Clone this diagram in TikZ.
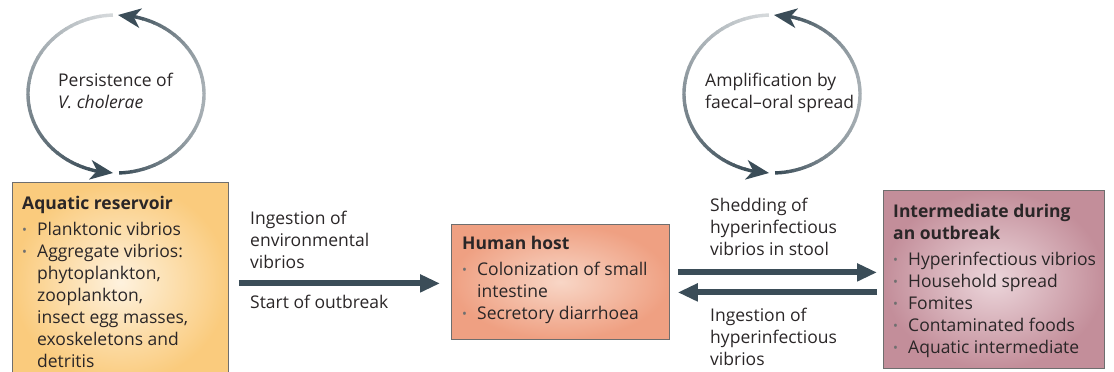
\documentclass[tikz,border=0pt]{standalone}
\usepackage{fontspec}
\setmainfont{Open Sans}
\usetikzlibrary{arrows.meta,calc}
\definecolor{slate}{HTML}{3B4D58}
\definecolor{ink}{HTML}{2A2627}
\definecolor{dotgray}{HTML}{6F6F6F}
\definecolor{edgegray}{HTML}{6E6E6E}
\newcommand\bul{\makebox[15pt][l]{\textcolor{dotgray}{\fontsize{13}{13}\selectfont\raisebox{0.5pt}{•}}}}
\newcommand\ind{\hspace*{15pt}}

\begin{document}
\begin{tikzpicture}[x=1pt,y=1pt,
    box/.style={rectangle, draw=edgegray, line width=0.8pt, anchor=north west, inner sep=0pt},
    txt/.style={inner sep=0pt, align=left, anchor=north west, text=ink,
                font=\fontsize{17.5}{22}\selectfont},
    flow/.style={draw=slate, line width=6pt, -{Triangle[length=20pt,width=17pt]}}]
  \useasboundingbox (0,0) rectangle (1114,372);
  \def\rx{88}
  \def\ry{79}

  \node[box, minimum width=216pt, minimum height=200pt, shading=radial,
        inner color={rgb,255:red,254;green,242;blue,222}, outer color={rgb,255:red,250;green,203;blue,125}]
    (aq) at (12,190) {};
  \node[box, minimum width=218pt, minimum height=115pt, shading=radial,
        inner color={rgb,255:red,248;green,214;blue,198}, outer color={rgb,255:red,239;green,160;blue,130}]
    (hh) at (451,148) {};
  \node[box, minimum width=221pt, minimum height=178pt, shading=radial,
        inner color={rgb,255:red,236;green,214;blue,219}, outer color={rgb,255:red,195;green,142;blue,154}]
    (im) at (883,182) {};

  \node[txt] (aqtext) at (22,176) {\textbf{Aquatic reservoir}\\[4pt]
    \bul Planktonic vibrios\\
    \bul Aggregate vibrios:\\
    \ind phytoplankton,\\
    \ind zooplankton,\\
    \ind insect egg masses,\\
    \ind exoskeletons and\\
    \ind detritis};
  \node[txt] (hhtext) at (462,136) {\textbf{Human host}\\[4pt]
    \bul Colonization of small\\
    \ind intestine\\
    \bul Secretory diarrhoea};
  \node[txt] (imtext) at (893,168) {\textbf{Intermediate during}\\
    \textbf{an outbreak}\\[4pt]
    \bul Hyperinfectious vibrios\\
    \bul Household spread\\
    \bul Fomites\\
    \bul Contaminated foods\\
    \bul Aquatic intermediate};

  \draw[flow, shorten <=10pt, shorten >=11pt] ([yshift=-1.5pt]aq.east |- hh.west) -- ([yshift=-1.5pt]hh.west);
  \draw[flow, shorten <=8pt, shorten >=6pt] ([yshift=9.5pt]hh.east) -- ([yshift=9.5pt]hh.east -| im.west);
  \draw[flow, shorten <=6pt, shorten >=8pt] ([yshift=-10.5pt]hh.east -| im.west) -- ([yshift=-10.5pt]hh.east);

  \node[txt] (ingest) at (250,161) {Ingestion of\\ environmental\\ vibrios};
  \node[txt] (start) at (250,77) {Start of outbreak};
  \node[txt] (shed) at (710,174) {Shedding of\\ hyperinfectious\\ vibrios in stool};
  \node[txt] (reingest) at (710,64) {Ingestion of\\ hyperinfectious\\ vibrios};

  \coordinate (loopA) at (116,278);
  \coordinate (loopB) at (772,278);
  \node[txt] (persist) at (58,299) {Persistence of\\ \textit{V. cholerae}};
  \node[txt] (amplify) at (705,299) {Amplification by\\ faecal--oral spread};

  \foreach \c in {loopA,loopB} {
    \foreach \a in {-88,-84,...,76} {
      \pgfmathtruncatemacro{\p}{100-55*sin((\a+88)/166*180)}
      \draw[color=slate!\p!white, line width=3.4pt]
        ($(\c)+({\rx*cos(\a)},{\ry*sin(\a)})$) arc[start angle=\a, end angle=\a+4.5, x radius=\rx, y radius=\ry];
    }
    \foreach \a in {92,96,...,256} {
      \pgfmathtruncatemacro{\p}{22+(\a-92)/164*78}
      \draw[color=slate!\p!white, line width=3.4pt]
        ($(\c)+({\rx*cos(\a)},{\ry*sin(\a)})$) arc[start angle=\a, end angle=\a+4.5, x radius=\rx, y radius=\ry];
    }
    \fill[slate, shift={($(\c)+(2,79)$)}, rotate=172]
      (0,0) -- (-23,10) -- (-16,0) -- (-23,-10) -- cycle;
    \fill[slate, shift={($(\c)+(-3,-79)$)}, rotate=-8]
      (0,0) -- (-23,10) -- (-16,0) -- (-23,-10) -- cycle;
  }
\end{tikzpicture}
\end{document}
